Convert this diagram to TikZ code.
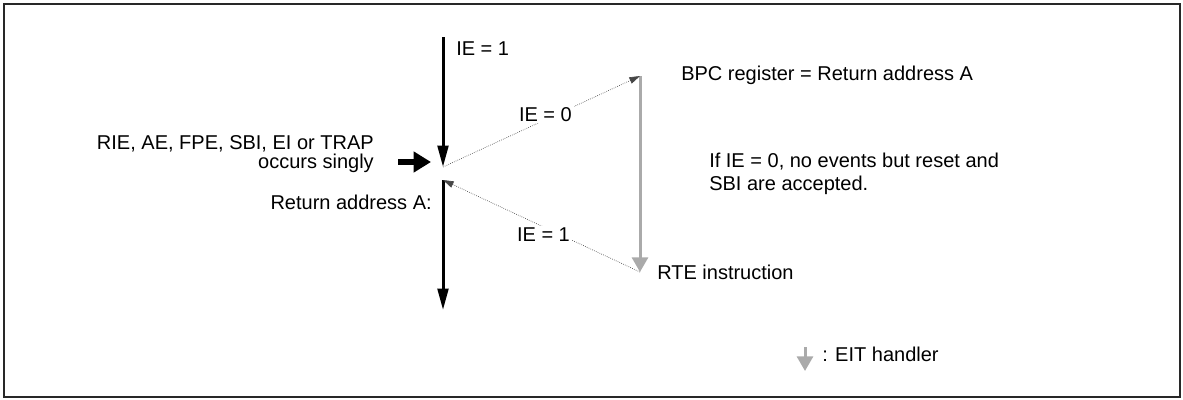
\documentclass[tikz,border=0pt]{standalone}
\usepackage{fontspec}
\setmainfont{Liberation Sans}
\usetikzlibrary{arrows.meta}
\begin{document}
\begin{tikzpicture}[x=0.75pt,y=-0.75pt,
  txt/.style={font=\fontsize{15pt}{14pt}\selectfont, inner sep=0pt},
  mainflow/.style={line width=2.25pt, -{Triangle[length=16pt,width=8pt]}},
  handler/.style={line width=2.25pt, draw={rgb,255:red,170;green,170;blue,170}, -{Triangle[length=11pt,width=12pt]}},
  dotline/.style={densely dotted, line width=0.5pt, draw={rgb,255:red,70;green,70;blue,70}, -{Triangle[length=8pt,width=5pt]}},
  dotlab/.style={txt, fill=white, inner sep=1.5pt},
  blockarrow/.style={line width=5pt, -{Triangle[length=13pt,width=15pt]}}
]
\useasboundingbox (0,0) rectangle (1183,400);
\draw[line width=1.5pt, draw={rgb,255:red,40;green,40;blue,40}] (3.5,3.5) rectangle (1179.5,396.5);

% key points
\coordinate (top) at (443,37);
\coordinate (meet) at (443,167);
\coordinate (ret) at (443,180);
\coordinate (bottom) at (443,310);
\coordinate (bpc) at (640,76);
\coordinate (rte) at (640,272);
\coordinate (blkstart) at (398,162);
\coordinate (blkend) at (431,162);

% main flow
\draw[mainflow] (top) -- (meet);
\draw[mainflow] (ret) -- (bottom);

% handler
\draw[handler] (bpc) -- (rte);

% dotted transitions
\draw[dotline] (meet) -- node[dotlab, pos=0.52, yshift=4] (ie0) {IE = 0} (bpc);
\draw[dotline] (rte) -- node[dotlab, pos=0.49, yshift=-6] (ie1b) {IE = 1} (ret);

% block arrow
\draw[blockarrow] (blkstart) -- (blkend);

% labels
\node[txt, anchor=west] (ie1) at (456,49) {IE = 1};
\node[txt, anchor=east, align=right] (evt) at (374,154) {RIE, AE, FPE, SBI, EI or TRAP\\occurs singly};
\node[txt, anchor=east] (retlab) at (432,202) {Return address A:};
\node[txt, anchor=west] (bpclab) at (681,75) {BPC register = Return address A};
\node[txt, anchor=west, align=left, font=\fontsize{15pt}{17pt}\selectfont] (note) at (709,174) {If IE = 0, no events but reset and\\SBI are accepted.};
\node[txt, anchor=west] (rtelab) at (657,272) {RTE instruction};

% legend
\coordinate (legtop) at (805,347);
\coordinate (legbot) at (805,371);
\draw[handler] (legtop) -- (legbot);
\node[txt, anchor=west] (leglab) at (822,354) {: EIT handler};
\end{tikzpicture}
\end{document}
